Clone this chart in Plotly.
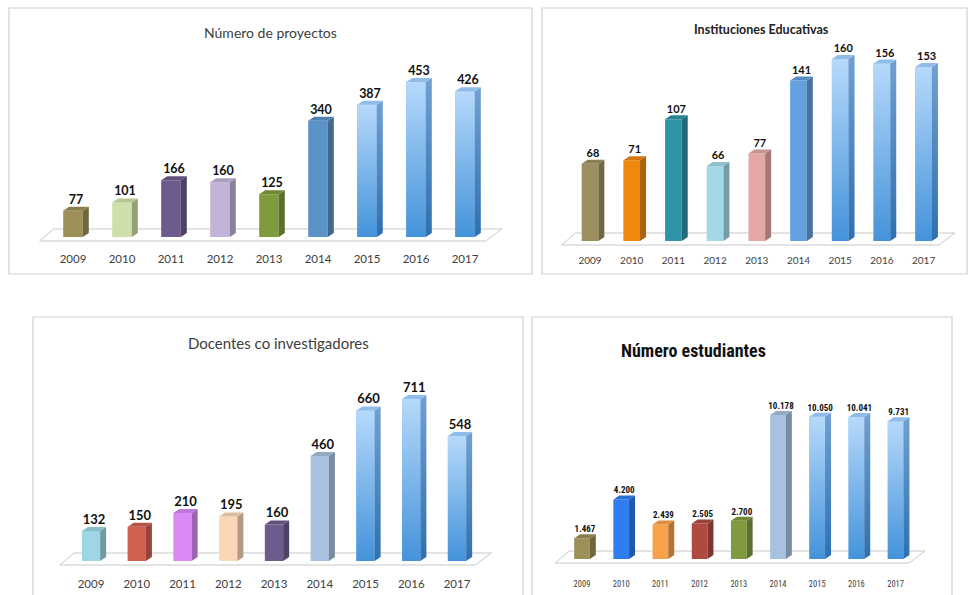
import plotly.graph_objects as go

years = ["2009", "2010", "2011", "2012", "2013", "2014", "2015", "2016", "2017"]

proyectos = [77, 101, 166, 160, 125, 340, 387, 453, 426]
instituciones = [68, 71, 107, 66, 77, 141, 160, 156, 153]
docentes = [132, 150, 210, 195, 160, 460, 660, 711, 548]
estudiantes = [1467, 4200, 2439, 2505, 2700, 10178, 10050, 10041, 9731]

titles = ["Número de proyectos", "Instituciones Educativas",
          "Docentes co investigadores", "Número estudiantes"]

GB = "#7fb8ee"  # gradient blue base
colors1 = ["#9c9058", "#cfdfa9", "#6d5b8e", "#c2b3d8", "#809b3e", "#5b93c9", GB, GB, GB]
colors2 = ["#9c9060", "#f08810", "#2f94a6", "#a4d8e6", "#e3a7a5", "#64a0de", GB, GB, GB]
colors3 = ["#9fd6e6", "#d06050", "#d98af5", "#fcd7b6", "#6d5b8e", "#a7c2df", GB, GB, GB]
colors4 = ["#9c9058", "#2f7ef0", "#f7a24a", "#b04a40", "#809b3e", "#a7c2df", GB, GB, GB]
GRAD_TOP, GRAD_BOTTOM = "#b6d9fb", "#4493da"


def darker(hexc, f=0.7):
    h = hexc.lstrip("#")
    r, g, b = (int(h[i:i + 2], 16) for i in (0, 2, 4))
    return "#%02x%02x%02x" % (int(r * f), int(g * f), int(b * f))


W, H = 968, 595
fig = go.Figure()

panels = [
    dict(vals=proyectos, cols=colors1, labels=[str(v) for v in proyectos],
         x0=73, sp=49, base=237, ppu=0.342, ymax=500,
         title=titles[0], tx=270, ty=32, tsize=14, tbold=False, tcol="#404040",
         font="Lato, Open Sans, sans-serif", ysize=11.5, lsize=12.5, tl=1,
         border=(9, 8, 532, 274)),
    dict(vals=instituciones, cols=colors2, labels=[str(v) for v in instituciones],
         x0=590, sp=41.7, base=241, ppu=1.1375, ymax=170,
         title=titles[1], tx=761, ty=29, tsize=12.5, tbold=True, tcol="#222222",
         font="Lato, Open Sans, sans-serif", ysize=10, lsize=11, tl=0,
         border=(542, 8, 967, 274)),
    dict(vals=docentes, cols=colors3, labels=[str(v) for v in docentes],
         x0=91, sp=45.75, base=561, ppu=0.228, ymax=800,
         title=titles[2], tx=278, ty=343, tsize=15, tbold=False, tcol="#404040",
         font="Lato, Open Sans, sans-serif", ysize=11.5, lsize=13, tl=2,
         border=(33, 317, 523, 600)),
    dict(vals=estudiantes, cols=colors4,
         labels=[f"{v:,}".replace(",", ".") for v in estudiantes],
         x0=582, sp=39.2, base=559, ppu=0.01415, ymax=12000,
         title=titles[3], tx=693, ty=350, tsize=18, tbold=True, tcol="#111111",
         font="Liberation Sans Narrow, Roboto Condensed, Roboto, sans-serif",
         ysize=8.5, lsize=9, tl=7,
         border=(532, 317, 952, 600)),
]

shapes = []
annotations = []
wbar = 0.40
for k, p in enumerate(panels, start=1):
    xa = "x" if k == 1 else f"x{k}"
    ya = "y" if k == 1 else f"y{k}"
    x0, sp, base, ppu = p["x0"], p["sp"], p["base"], p["ppu"]
    xr = [-0.75, 8.85]
    ymin = -10 / ppu
    left = x0 + xr[0] * sp
    right = x0 + xr[1] * sp
    bottom = base + 10
    top = base - p["ymax"] * ppu
    dom_x = [left / W, right / W]
    dom_y = [1 - bottom / H, 1 - top / H]
    dx = 6 / sp
    dy = 4 / ppu

    # floor (3D platform)
    def d(px, py):
        return (px - x0) / sp, (base - py) / ppu
    fl = [d(x0 - 0.68 * sp, base + 4), d(x0 + 8.75 * sp - 16, base + 4),
          d(x0 + 8.75 * sp, base - 8), d(x0 - 0.68 * sp + 14, base - 8)]
    path = "M " + " L ".join(f"{a},{b}" for a, b in fl) + " Z"
    shapes.append(dict(type="path", path=path, xref=xa, yref=ya,
                       fillcolor="white", line=dict(color="#c8c8c8", width=1),
                       layer="below"))

    xs = list(range(len(p["vals"])))
    # front faces
    fig.add_trace(go.Bar(x=xs, y=p["vals"], width=wbar, marker=dict(color=p["cols"], line=dict(width=0)),
                         xaxis=xa, yaxis=ya, showlegend=False, hoverinfo="skip"))
    # side & top faces, gradient overlay
    for i, v in enumerate(p["vals"]):
        c = p["cols"][i]
        r = i + wbar / 2
        l = i - wbar / 2
        grad = (c == GB)
        if grad:
            fig.add_trace(go.Scatter(x=[l, r, r, l, l], y=[0, 0, v, v, 0], fill="toself",
                                     fillgradient=dict(type="vertical", start=0, stop=v,
                                                       colorscale=[[0, GRAD_BOTTOM], [1, GRAD_TOP]]),
                                     mode="lines", line=dict(width=0), xaxis=xa, yaxis=ya,
                                     showlegend=False, hoverinfo="skip"))
            side = dict(fillgradient=dict(type="vertical", start=0, stop=v,
                                          colorscale=[[0, "#2f6fb0"], [1, "#6f9fd0"]]))
        else:
            side = dict(fillcolor=darker(c, 0.72))
        fig.add_trace(go.Scatter(x=[r, r + dx, r + dx, r, r], y=[0, dy, v + dy, v, 0],
                                 fill="toself", mode="lines",
                                 line=dict(width=0), xaxis=xa, yaxis=ya,
                                 showlegend=False, hoverinfo="skip", **side))
        topc = "#8fbde8" if grad else darker(c, 0.88)
        fig.add_trace(go.Scatter(x=[l, r, r + dx, l + dx, l], y=[v, v, v + dy, v + dy, v],
                                 fill="toself", fillcolor=topc, mode="lines",
                                 line=dict(width=0), xaxis=xa, yaxis=ya,
                                 showlegend=False, hoverinfo="skip"))
    # value labels
    fig.add_trace(go.Scatter(x=[i + dx / 2 for i in xs], y=[v + dy for v in p["vals"]],
                             mode="text", text=p["labels"], textposition="top center",
                             textfont=dict(family=p["font"], size=p["lsize"], color="#111111",
                                           weight="bold"), cliponaxis=False,
                             xaxis=xa, yaxis=ya, showlegend=False, hoverinfo="skip"))

    axx = dict(domain=dom_x, range=xr, showgrid=False, zeroline=False, showline=False,
               tickmode="array", tickvals=xs, ticktext=years, ticks="outside",
               ticklen=p["tl"], tickcolor="rgba(0,0,0,0)",
               tickfont=dict(family=p["font"], size=p["ysize"], color="#404040"),
               anchor=ya, fixedrange=True)
    axy = dict(domain=dom_y, range=[ymin, p["ymax"]], visible=False, anchor=xa,
               fixedrange=True)
    fig.layout["xaxis" if k == 1 else f"xaxis{k}"] = axx
    fig.layout["yaxis" if k == 1 else f"yaxis{k}"] = axy

    bx0, by0, bx1, by1 = p["border"]
    shapes.append(dict(type="rect", xref="paper", yref="paper",
                       x0=bx0 / W, x1=bx1 / W, y0=1 - by1 / H, y1=1 - by0 / H,
                       line=dict(color="#cfcfcf", width=1.2), fillcolor="rgba(0,0,0,0)",
                       layer="below"))
    annotations.append(dict(x=p["tx"] / W, y=1 - p["ty"] / H, xref="paper", yref="paper",
                            text=(f"<b>{p['title']}</b>" if p["tbold"] else p["title"]),
                            showarrow=False, xanchor="center", yanchor="middle",
                            font=dict(family=p["font"], size=p["tsize"], color=p["tcol"])))

fig.update_layout(width=W, height=H, margin=dict(l=0, r=0, t=0, b=0),
                  paper_bgcolor="white", plot_bgcolor="rgba(0,0,0,0)",
                  shapes=shapes, annotations=annotations, bargap=0.5)

fig.write_html("out.html")
